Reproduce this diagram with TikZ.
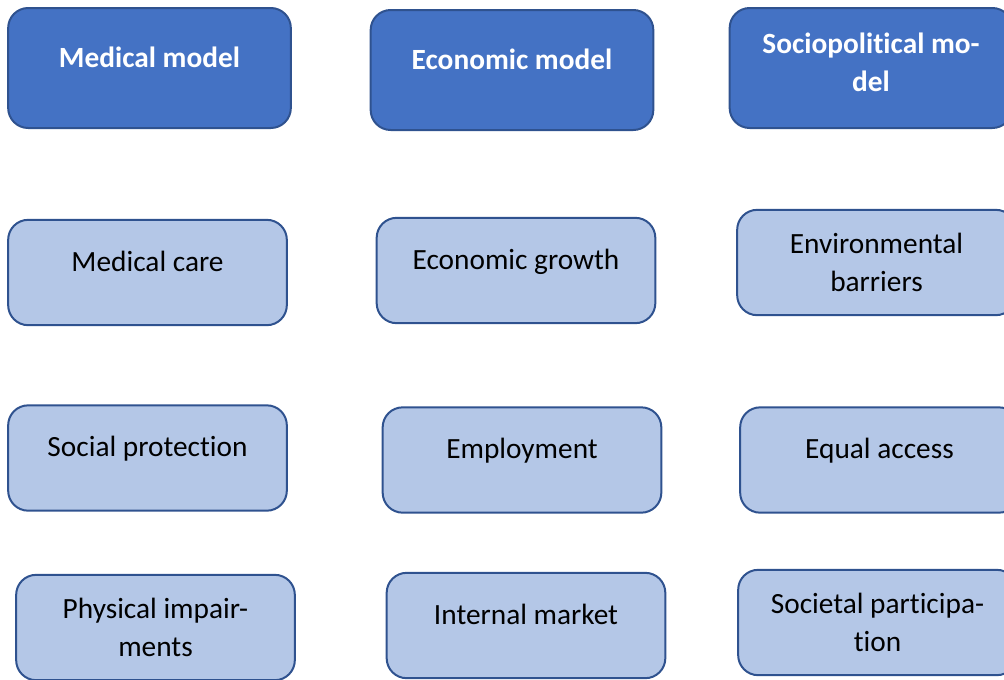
\documentclass[tikz,border=0pt]{standalone}
\usepackage{fontspec}
\setmainfont[Ligatures=NoCommon]{Carlito}

\definecolor{headfill}{HTML}{4472C4}
\definecolor{itemfill}{HTML}{B4C7E7}
\definecolor{boxline}{HTML}{2F528F}

\tikzset{
    box/.style={draw=boxline, line width=1.5pt, rounded corners=15pt, align=center,
        font=\fontsize{22}{28.2}\selectfont},
    model/.style={box, fill=headfill, text=white, font=\fontsize{22}{28.2}\selectfont\bfseries,
        minimum width=212pt, minimum height=90pt},
    item/.style={box, fill=itemfill, text=black, minimum width=209pt, minimum height=79pt},
    % text sits a little above the middle: extra depth lifts it
    oneline/.style={text height=15pt, text depth=#1},
    oneline/.default=17pt
}

\begin{document}
\begin{tikzpicture}[x=0.75pt, y=-0.75pt]
    \useasboundingbox (0, 0) rectangle (1004, 679);

    % the three models
    \node[model, oneline=15.5pt] (medical)  at (149.5, 68) {Medical model};
    \node[model, oneline=15.5pt] (economic) at (512, 70)   {Economic model};
    \node[model, text depth=9pt] (sociopol) at (871, 68)   {Sociopolitical mo-\\del};

    % second row
    \node[item, oneline] (medcare) at (147.5, 272.5) {Medical care};
    \node[item, oneline] (growth)  at (516, 270.5)   {Economic growth};
    \node[item]          (envbar)  at (876.5, 262.5) {Environmental\\barriers};

    % third row
    \node[item, oneline] (socprot) at (147.5, 458) {Social protection};
    \node[item, oneline] (employ)  at (522, 460)   {Employment};
    \node[item, oneline] (access)  at (879.5, 460) {Equal access};

    % fourth row
    \node[item]          (impair)  at (155.5, 627.5) {Physical impair-\\ments};
    \node[item, oneline] (market)  at (526, 625.5)   {Internal market};
    \node[item]          (partic)  at (877.5, 622.5) {Societal participa-\\tion};
\end{tikzpicture}
\end{document}
